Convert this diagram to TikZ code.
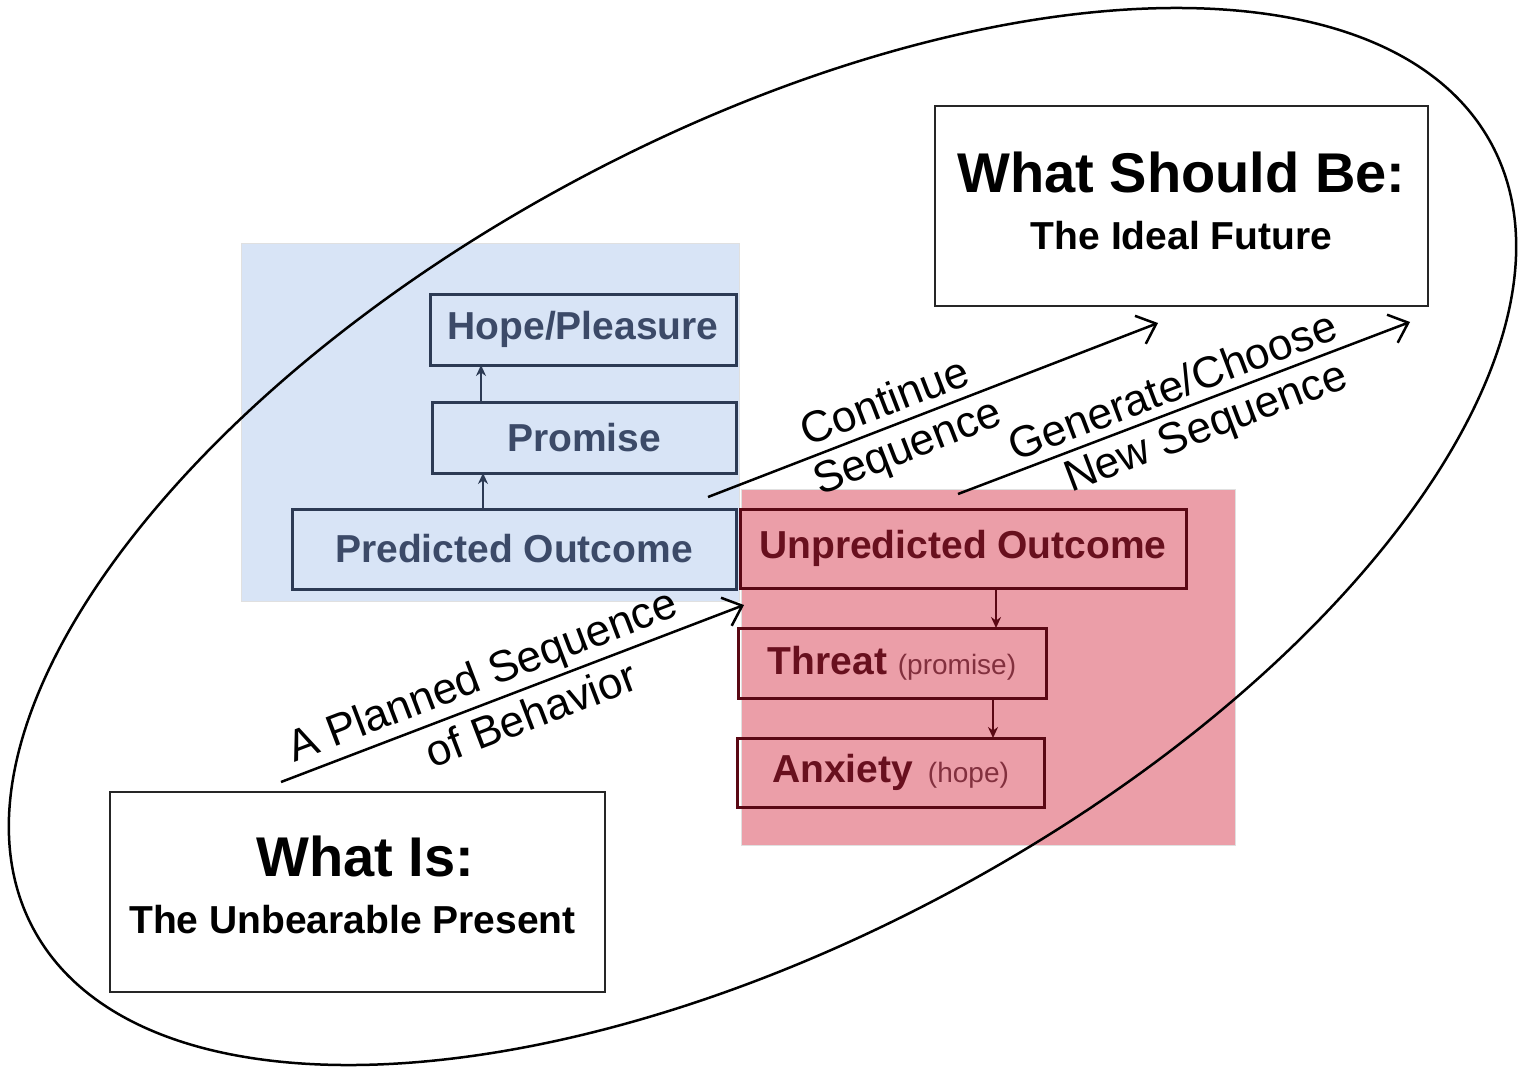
\documentclass[tikz,border=0pt]{standalone}
\usepackage{fontspec}
\setmainfont{Liberation Sans}
\usetikzlibrary{arrows.meta}
\definecolor{bluebg}{RGB}{216,228,246}
\definecolor{redbg}{RGB}{235,158,168}
\definecolor{blueline}{RGB}{44,58,84}
\definecolor{bluetext}{RGB}{60,74,104}
\definecolor{redline}{RGB}{90,8,20}
\definecolor{redtext}{RGB}{104,16,30}
\definecolor{redsoft}{RGB}{130,48,62}
\tikzset{
  bgpanel/.style={draw=black!12, line width=1pt, inner sep=0pt, outer sep=0pt},
  bluebox/.style={draw=blueline, line width=3pt, text=bluetext, inner sep=0pt, outer sep=0pt,
    font=\fontsize{39}{44}\selectfont\bfseries},
  redbox/.style={draw=redline, line width=3pt, text=redtext, inner sep=0pt, outer sep=0pt,
    font=\fontsize{39}{44}\selectfont\bfseries},
  whitebox/.style={draw=black!85, line width=2.5pt, fill=white, align=center, inner sep=0pt, outer sep=0pt},
  mainarrow/.style={line width=2.5pt, -{Straight Barb[length=17pt,width=30pt]}},
  bluearrow/.style={draw=blueline, line width=2pt, -{Stealth[length=11pt,width=10pt]}},
  redarrow/.style={draw=redline, line width=2pt, -{Stealth[length=11pt,width=10pt]}},
  lbl/.style={font=\fontsize{44}{48}\selectfont, sloped, inner xsep=0pt}
}
\begin{document}
\begin{tikzpicture}[x=1pt,y=-1pt]
\useasboundingbox (0,0) rectangle (1528,1074);
\fill[white] (0,0) rectangle (1528,1074);

% background panels
\node[bgpanel, fill=bluebg, minimum width=498pt, minimum height=358pt] (bluepanel) at (490,422) {};
\node[bgpanel, fill=redbg, minimum width=494pt, minimum height=356pt] (redpanel) at (988,667) {};

% ellipse
\draw[line width=2.5pt, rotate around={28.3:(762.5,536.5)}] (762.5,536.5) ellipse [x radius=828, y radius=402];

% blue boxes
\node[bluebox, minimum width=306pt, minimum height=71pt] (hope) at (583,329.5) {Hope/Pleasure};
\node[bluebox, minimum width=304pt, minimum height=71pt] (promise) at (584,437.5) {Promise};
\node[bluebox, minimum width=444pt, minimum height=80pt] (pred) at (514,549) {Predicted Outcome};

% red boxes
\node[redbox, minimum width=446pt, minimum height=79pt] (unpred) at (963,548.5) {Unpredicted Outcome};
\node[redbox, minimum width=308pt, minimum height=70pt] (threat) at (892,663)
  {Threat {\fontsize{28}{30}\selectfont\mdseries\color{redsoft}(promise)}};
\node[redbox, minimum width=307pt, minimum height=69pt] (anx) at (890.5,772.5)
  {Anxiety\hspace{15pt}{\fontsize{28}{30}\selectfont\mdseries\color{redsoft}(hope)}};

% white boxes
\node[whitebox, minimum width=493pt, minimum height=200pt] (should) at (1181.5,206) {};
\node[font=\fontsize{39}{57}\selectfont\bfseries, align=center, inner sep=0pt] (shouldtxt) at ([yshift=5pt]should.center)
  {{\fontsize{56}{60}\selectfont What Should Be:}\\ The Ideal Future};
\node[whitebox, minimum width=495pt, minimum height=200pt] (whatis) at (357.5,892) {};
\node[font=\fontsize{39}{57}\selectfont\bfseries, align=center, inner sep=0pt] (whatistxt) at ([yshift=7pt]whatis.center)
  {\hspace*{16pt}{\fontsize{56}{60}\selectfont What Is:}\\ The Unbearable Present\hspace*{10pt}};

% small arrows
\draw[bluearrow] ([xshift=-31pt]pred.north) -- ([xshift=-101pt]promise.south);
\draw[bluearrow] ([xshift=-103pt]promise.north) -- ([xshift=-102pt]hope.south);
\draw[redarrow] ([xshift=33pt]unpred.south) -- ([xshift=104pt]threat.north);
\draw[redarrow] ([xshift=101pt]threat.south) -- ([xshift=102.5pt]anx.north);

% main arrows
\coordinate (planS) at (281,782);
\coordinate (planE) at (744,605);
\coordinate (contS) at (708,497);
\coordinate (contE) at (1158,323);
\coordinate (genS) at (958,494);
\coordinate (genE) at (1410,322);

\draw[mainarrow] (planS) -- node[lbl, above, pos=0.456, inner ysep=3pt] {A Planned Sequence}
                             node[lbl, below, pos=0.52, inner ysep=8pt] {of Behavior} (planE);
\draw[mainarrow] (contS) -- node[lbl, above, pos=0.413, inner ysep=9pt] {Continue}
                             node[lbl, below, pos=0.423, inner ysep=7pt] {Sequence} (contE);
\draw[mainarrow] (genS) -- node[lbl, above, pos=0.494, inner ysep=8pt] {Generate/Choose}
                            node[lbl, below, pos=0.528, inner ysep=7pt] {New Sequence} (genE);
\end{tikzpicture}
\end{document}
